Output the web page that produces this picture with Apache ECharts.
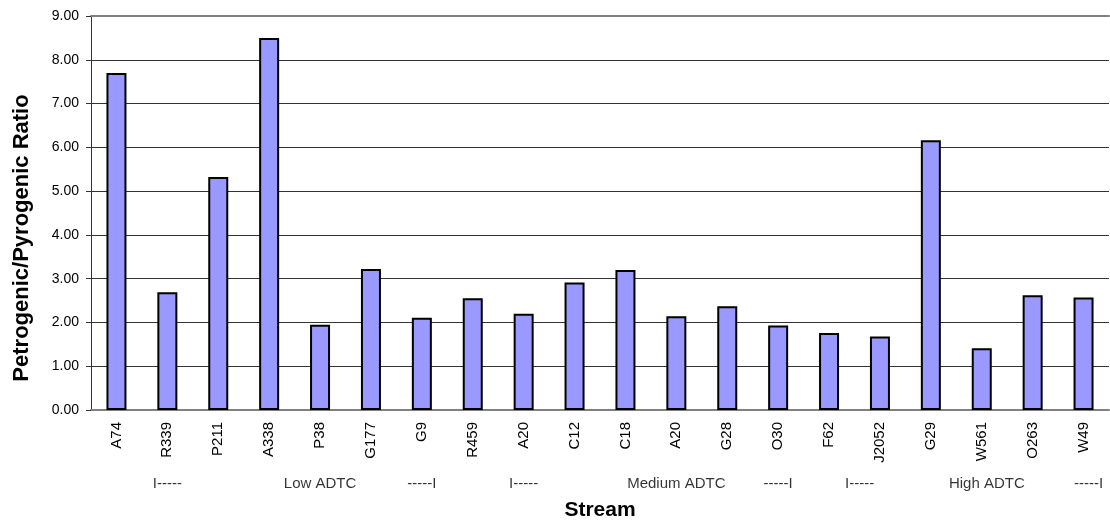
<!DOCTYPE html>
<html>
<head>
<meta charset="utf-8">
<script src="https://cdn.jsdelivr.net/npm/echarts@6/dist/echarts.min.js"></script>
<style>
  html, body { margin: 0; padding: 0; background: #fff; }
  #chart { width: 1110px; height: 531px; }
</style>
</head>
<body>
<div id="chart"></div>
<script>
// Streams along the x axis
var streams = ['A74', 'R339', 'P211', 'A338', 'P38', 'G177', 'G9', 'R459', 'A20', 'C12',
               'C18', 'A20', 'G28', 'O30', 'F62', 'J2052', 'G29', 'W561', 'O263', 'W49'];
// Petrogenic/Pyrogenic ratio per stream
var ratios = [7.70, 2.69, 5.32, 8.50, 1.95, 3.22, 2.11, 2.55, 2.20, 2.91,
              3.20, 2.14, 2.37, 1.93, 1.76, 1.68, 6.16, 1.41, 2.62, 2.57];
// ADTC group bracket labels and the category slot (0..20) each sits under
var groupTexts = ['I-----', 'Low ADTC', '-----I', 'I-----', 'Medium ADTC', '-----I', 'I-----', 'High ADTC', '-----I'];
var groupSlots = [1.5, 4.5, 6.5, 8.5, 11.5, 13.5, 15.1, 17.6, 19.6];
// Y tick settings
var yMin = 0, yMax = 9, yStep = 1;

var FONT = '"Liberation Sans", Arial, sans-serif';

var chart = echarts.init(document.getElementById('chart'), null, { renderer: 'canvas' });

var groupData = groupSlots.map(function (s, i) { return [s, 0.5, groupTexts[i]]; });

chart.setOption({
  backgroundColor: '#ffffff',
  animation: false,
  grid: [
    { left: 91, right: 1, top: 16, bottom: 121 },
    { left: 91, right: 1, top: 474, height: 20 }
  ],
  xAxis: [
    {
      type: 'category',
      gridIndex: 0,
      data: streams,
      position: 'bottom',
      axisLine: { show: true, lineStyle: { color: '#808080', width: 2 } },
      axisTick: { show: false },
      axisLabel: {
        rotate: 90, interval: 0, margin: 12,
        color: '#000', fontFamily: FONT, fontSize: 15
      },
      name: 'Stream',
      nameLocation: 'middle',
      nameGap: 90,
      nameTextStyle: { color: '#000', fontFamily: FONT, fontSize: 21, fontWeight: 'bold' }
    },
    {
      type: 'category',
      gridIndex: 0,
      data: streams,
      position: 'top',
      axisLine: { show: true, lineStyle: { color: '#808080', width: 2 } },
      axisTick: { show: false },
      axisLabel: { show: false }
    },
    {
      type: 'value',
      gridIndex: 1,
      min: 0, max: streams.length,
      show: false
    }
  ],
  yAxis: [
    {
      type: 'value',
      gridIndex: 0,
      min: yMin, max: yMax, interval: yStep,
      axisLine: { show: true, lineStyle: { color: '#333', width: 1 } },
      axisTick: { show: true, length: 5, lineStyle: { color: '#333' } },
      axisLabel: {
        color: '#000', fontFamily: FONT, fontSize: 14, margin: 12,
        formatter: function (v) { return v.toFixed(2); }
      },
      splitLine: { show: true, lineStyle: { color: '#333', width: 1 } },
      name: 'Petrogenic/Pyrogenic Ratio',
      nameLocation: 'middle',
      nameGap: 58,
      nameTextStyle: {
        color: '#000', fontFamily: FONT, fontSize: 22, fontWeight: 'bold',
        padding: [0, 50, 0, 0]
      }
    },
    {
      type: 'value',
      gridIndex: 1,
      min: 0, max: 1,
      show: false
    }
  ],
  series: [
    {
      type: 'bar',
      xAxisIndex: 0,
      yAxisIndex: 0,
      data: ratios,
      barWidth: 20,
      itemStyle: { color: '#9999ff', borderColor: '#000', borderWidth: 2 }
    },
    {
      type: 'scatter',
      xAxisIndex: 2,
      yAxisIndex: 1,
      data: groupData,
      symbolSize: 0,
      silent: true,
      label: {
        show: true,
        position: 'inside',
        formatter: function (p) { return p.value[2]; },
        color: '#000', fontFamily: FONT, fontSize: 15
      }
    }
  ]
});
</script>
</body>
</html>
